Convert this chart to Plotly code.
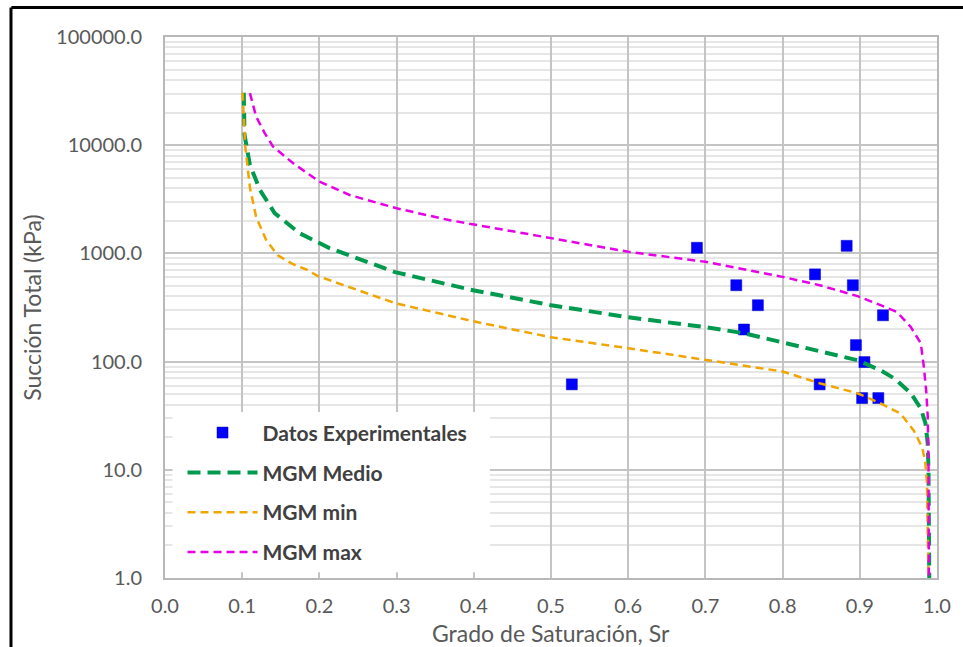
import plotly.graph_objects as go

# Experimental data
exp_sr = [0.527, 0.689, 0.740, 0.750, 0.768, 0.842, 0.848, 0.883, 0.891, 0.895, 0.903, 0.906, 0.924, 0.930]
exp_psi = [61.6, 1127, 508, 198, 332, 640, 61.6, 1175, 508, 142, 46, 99, 46, 268]

# MGM Medio
med_sr = [0.102, 0.103, 0.110, 0.123, 0.142, 0.174, 0.213, 0.298, 0.399, 0.500, 0.600, 0.700, 0.750,
          0.800, 0.848, 0.897, 0.927, 0.946, 0.966, 0.979, 0.985, 0.988, 0.989, 0.9895, 0.990]
med_psi = [30500, 12450, 6580, 3855, 2360, 1540, 1120, 671, 457, 332, 257, 208, 183,
           151, 124, 103, 83, 69, 51, 37, 27, 17.5, 9.8, 3.5, 1.0]

# MGM min
min_sr = [0.1005, 0.104, 0.110, 0.118, 0.131, 0.146, 0.165, 0.183, 0.198, 0.298, 0.399, 0.500, 0.600,
          0.700, 0.800, 0.848, 0.897, 0.927, 0.953, 0.970, 0.981, 0.985, 0.987, 0.988, 0.989]
min_psi = [30500, 9700, 4055, 2180, 1330, 960, 800, 710, 617, 347, 236, 168, 133,
           103, 81, 63, 51, 41, 33, 23, 16, 11.4, 7.5, 2.7, 1.0]

# MGM max
max_sr = [0.110, 0.118, 0.129, 0.140, 0.166, 0.200, 0.239, 0.300, 0.369, 0.500, 0.600, 0.700, 0.800,
          0.848, 0.897, 0.927, 0.948, 0.966, 0.979, 0.983, 0.986, 0.988, 0.989, 0.9895]
max_psi = [30300, 18400, 13000, 9700, 6810, 4600, 3467, 2610, 2025, 1380, 1035, 836, 607,
           508, 403, 332, 288, 209, 148, 89, 54, 31, 10.6, 1.0]

x_ticks = [0.0, 0.1, 0.2, 0.3, 0.4, 0.5, 0.6, 0.7, 0.8, 0.9, 1.0]
x_ticktext = ["0.0", "0.1", "0.2", "0.3", "0.4", "0.5", "0.6", "0.7", "0.8", "0.9", "1.0"]
y_ticks = [1, 10, 100, 1000, 10000, 100000]
y_ticktext = ["1.0", "10.0", "100.0", "1000.0", "10000.0", "100000.0"]
y_minor = [m * 10 ** d for d in range(5) for m in range(2, 10)]

FONT = "Lato"
TXT = "#595959"

fig = go.Figure()
fig.add_trace(go.Scatter(x=exp_sr, y=exp_psi, mode="markers", name="Datos Experimentales",
                         marker=dict(symbol="square", size=11, color="#0000FF",
                                     line=dict(width=0.5, color="#0000C0")),
                         legendgroup="a"))
fig.add_trace(go.Scatter(x=med_sr, y=med_psi, mode="lines", name="MGM Medio",
                         line=dict(color="#009A4E", width=4, dash="13px,7px"), legendgroup="b"))
fig.add_trace(go.Scatter(x=min_sr, y=min_psi, mode="lines", name="MGM min",
                         line=dict(color="#F0A500", width=2.5, dash="8px,5px"), legendgroup="c"))
fig.add_trace(go.Scatter(x=max_sr, y=max_psi, mode="lines", name="MGM max",
                         line=dict(color="#E600E6", width=2.5, dash="8px,5px"), legendgroup="d"))

fig.update_layout(
    width=963, height=647,
    margin=dict(l=165, r=26, t=37, b=69),
    paper_bgcolor="white", plot_bgcolor="white",
    font=dict(family=FONT, color=TXT, size=20),
    showlegend=True,
    legend=dict(x=(183 - 165.5) / 771, y=0.306, xanchor="left", yanchor="top",
                bgcolor="rgba(0,0,0,0)", borderwidth=0,
                font=dict(family=FONT, size=21, color="#404040", weight="bold"),
                itemwidth=70, tracegroupgap=9.5),
    xaxis=dict(range=[0, 1], tickvals=x_ticks, ticktext=x_ticktext,
               showgrid=True, gridcolor="#C4C4C4", gridwidth=2,
               showline=True, linecolor="#B8B8B8", linewidth=2, mirror=True,
               zeroline=False, ticks="outside", ticklen=9, tickcolor="rgba(0,0,0,0)",
               tickfont=dict(family=FONT, size=20, color=TXT)),
    yaxis=dict(type="log", range=[0, 5], tickvals=y_ticks, ticktext=y_ticktext,
               showgrid=True, gridcolor="#C4C4C4", gridwidth=2,
               minor=dict(tickvals=y_minor, showgrid=True, gridcolor="#E6E6E6", gridwidth=1.5),
               showline=True, linecolor="#B8B8B8", linewidth=2, mirror=True,
               zeroline=False, ticks="outside", ticklen=17, tickcolor="rgba(0,0,0,0)",
               tickfont=dict(family=FONT, size=20, color=TXT)),
    shapes=[
        dict(type="rect", xref="paper", yref="paper",
             x0=(173 - 165.5) / 771, x1=(490 - 165.5) / 771,
             y0=1 - (572 - 37.3) / 540.4, y1=1 - (412 - 37.3) / 540.4,
             fillcolor="white", line=dict(width=0), layer="above"),
        dict(type="line", xref="paper", yref="paper", x0=-0.199, x1=1.1, y0=1.0545, y1=1.0545,
             line=dict(color="black", width=3)),
        dict(type="line", xref="paper", yref="paper", x0=-0.1995, x1=-0.1995, y0=1.0545, y1=-0.2,
             line=dict(color="black", width=3)),
    ],
    annotations=[
        dict(text="Grado de Saturación, Sr", xref="paper", yref="paper",
             x=0.5, y=-(633 - 577.7) / 540.4, xanchor="center", yanchor="middle",
             showarrow=False, font=dict(family=FONT, size=23, color=TXT)),
        dict(text="Succión Total (kPa)", xref="paper", yref="paper", textangle=-90,
             x=-(165.5 - 32) / 771, y=0.5, xanchor="center", yanchor="middle",
             showarrow=False, font=dict(family=FONT, size=23, color=TXT)),
    ],
)

fig.write_html("out.html")
